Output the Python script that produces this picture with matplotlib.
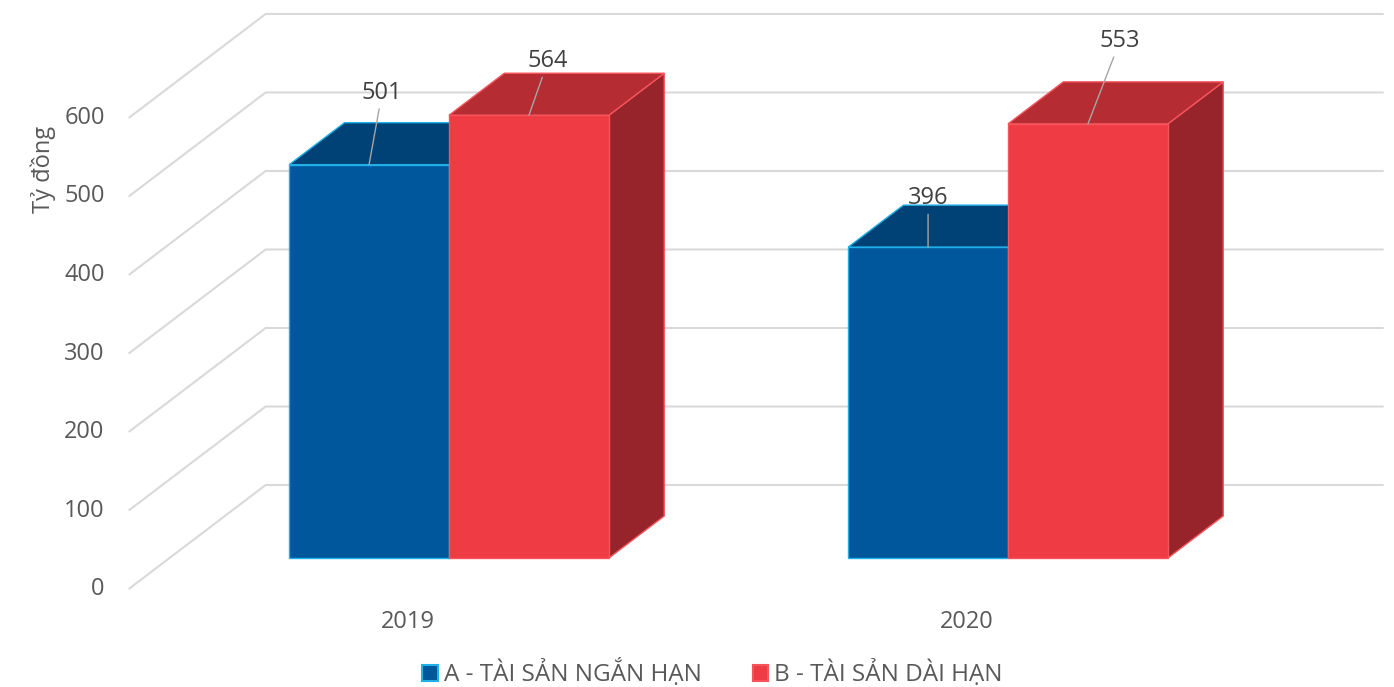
import numpy as np
import matplotlib
matplotlib.use("Agg")
import matplotlib.pyplot as plt
from matplotlib.patches import Polygon, Patch

years = ["2019", "2020"]
series = ["A - TÀI SẢN NGẮN HẠN", "B - TÀI SẢN DÀI HẠN"]
short_term = [501, 396]
long_term = [564, 553]
yticks = [0, 100, 200, 300, 400, 500, 600]
ylabel = "Tỷ đồng"

# colours: front, top, side, edge
blue = ("#01579b", "#004176", "#003a6a", "#1fb1e8")
red = ("#ef3b43", "#b52c33", "#98242b", "#f5545b")
grid_c = "#d9d9d9"
text_c = "#595959"

plt.rcParams["font.family"] = ["Open Sans", "DejaVu Sans"]
fs = 17

fig = plt.figure(figsize=(13.94, 6.87), dpi=100)
ax = fig.add_axes([0, 0, 1, 1])
ax.set_xlim(-0.7302, 1.7635)
ax.set_ylim(-124.8, 750.3)
ax.axis("off")

# oblique depth direction (data units per full depth)
DX, DY = 0.245, 132.5
f0, f1 = 0.298, 0.702
bw = 0.286
x0, x1 = -0.5, 1.5


def P(x, y, d):
    return (x + DX * d, y + DY * d)


# walls: gridlines on back wall + left wall
for v in yticks:
    ax.plot([P(x0, v, 0)[0], P(x0, v, 1)[0], P(x1, v, 1)[0]],
            [P(x0, v, 0)[1], P(x0, v, 1)[1], P(x1, v, 1)[1]],
            color=grid_c, lw=1.5, zorder=1, solid_capstyle="butt")
    ax.annotate(str(v), (x0, v), xytext=(-24, 0), textcoords="offset pixels",
                ha="right", va="center", fontsize=fs, color=text_c)


def box(xl, h, cols, z):
    xr = xl + bw
    side = [P(xr, 0, f0), P(xr, 0, f1), P(xr, h, f1), P(xr, h, f0)]
    top = [P(xl, h, f0), P(xr, h, f0), P(xr, h, f1), P(xl, h, f1)]
    front = [P(xl, 0, f0), P(xr, 0, f0), P(xr, h, f0), P(xl, h, f0)]
    for pts, c in ((side, cols[2]), (top, cols[1]), (front, cols[0])):
        ax.add_patch(Polygon(pts, closed=True, facecolor=c, edgecolor=cols[3],
                             lw=1.0, joinstyle="miter", zorder=z))


label_off = {(0, 0): (13, -72), (0, 1): (19, -54), (1, 0): (0, -49), (1, 1): (32, -83)}

for i in range(len(years)):
    for j, (vals, cols) in enumerate(((short_term, blue), (long_term, red))):
        xl = i - bw + j * bw
        box(xl, vals[i], cols, 2 + i * 2 + j)
        top_c = P(xl + bw / 2, vals[i], f0)
        dx, dy = label_off[(i, j)]
        ax.annotate(str(vals[i]), top_c, xytext=(dx, -dy), textcoords="offset pixels",
                    ha="center", va="center", fontsize=fs, color="#404040", zorder=10,
                    arrowprops=dict(arrowstyle="-", color="#a6a6a6", lw=1.0,
                                    shrinkA=1, shrinkB=0))
    ax.text(i, -42, years[i], ha="center", va="center", fontsize=fs, color=text_c)

fig.text(0.031, 0.753, ylabel, rotation=90, ha="center", va="center",
         fontsize=fs, color=text_c)

handles = [Patch(facecolor=blue[0], edgecolor=blue[3], lw=1.5),
           Patch(facecolor=red[0], edgecolor=red[3], lw=1.5)]
leg = fig.legend(handles, series, loc="center", bbox_to_anchor=(0.511, 0.02),
                 ncol=2, frameon=False, fontsize=17.5, handlelength=0.62,
                 handleheight=0.62, handletextpad=0.25, columnspacing=2.1,
                 borderaxespad=0, borderpad=0)
for t in leg.get_texts():
    t.set_color(text_c)

fig.savefig("out.png", dpi=100)
